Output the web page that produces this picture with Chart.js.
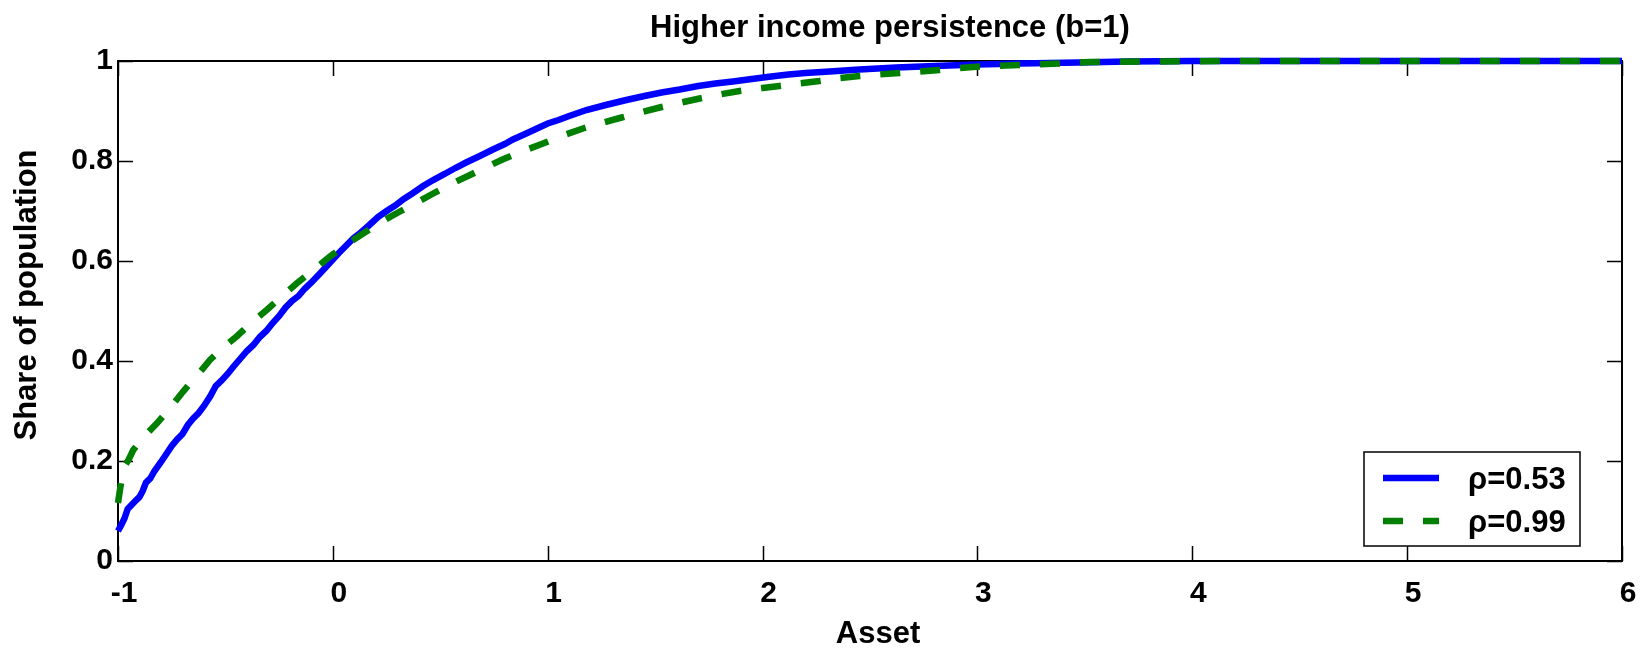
<!DOCTYPE html>
<html>
<head>
<meta charset="utf-8">
<script src="https://cdn.jsdelivr.net/npm/chart.js@4.4.1/dist/chart.umd.min.js"></script>
<style>
  html, body { margin: 0; padding: 0; background: #fff; }
  canvas { display: block; }
</style>
</head>
<body>
<canvas id="cdf" width="1648" height="651"></canvas>
<script>
// Cumulative share of population by asset holdings, two income-persistence cases.
const chartTitle = 'Higher income persistence (b=1)';
const xAxisTitle = 'Asset';
const yAxisTitle = 'Share of population';
const seriesLabels = ['\u03C1=0.53', '\u03C1=0.99'];

const xTickValues = [-1, 0, 1, 2, 3, 4, 5, 6];
const yTickValues = [0, 0.2, 0.4, 0.6, 0.8, 1];

// rho = 0.53
const asset53 = [-1, -0.985, -0.97, -0.955, -0.935, -0.915, -0.9, -0.885, -0.87, -0.85, -0.83, -0.8,
  -0.775, -0.75, -0.725, -0.7, -0.675, -0.65, -0.625, -0.6, -0.57, -0.545, -0.52, -0.49, -0.46, -0.43,
  -0.4, -0.37, -0.34, -0.31, -0.28, -0.25, -0.22, -0.19, -0.16, -0.13, -0.1, -0.06, -0.03, 0, 0.03,
  0.06, 0.095, 0.13, 0.17, 0.21, 0.25, 0.29, 0.33, 0.37, 0.42, 0.467, 0.52, 0.57, 0.62, 0.684, 0.745,
  0.8, 0.838, 0.9, 0.95, 1.0, 1.05, 1.1, 1.18, 1.27, 1.366, 1.45, 1.53, 1.614, 1.7, 1.78, 1.862, 1.95,
  2.04, 2.12, 2.2, 2.312, 2.45, 2.622, 2.8, 3.0, 3.2, 3.47, 3.7, 4.0, 6.0];
const share53 = [0.06, 0.072, 0.085, 0.104, 0.113, 0.122, 0.128, 0.14, 0.157, 0.165, 0.18, 0.198,
  0.214, 0.23, 0.243, 0.254, 0.272, 0.285, 0.296, 0.31, 0.33, 0.35, 0.36, 0.374, 0.39, 0.405,
  0.42, 0.432, 0.448, 0.46, 0.476, 0.49, 0.507, 0.52, 0.53, 0.545, 0.557, 0.575, 0.589, 0.603, 0.617,
  0.63, 0.645, 0.657, 0.672, 0.688, 0.7, 0.711, 0.724, 0.735, 0.75, 0.762, 0.774, 0.786, 0.797, 0.81, 0.823,
  0.834, 0.843, 0.855, 0.865, 0.875, 0.882, 0.89, 0.902, 0.912, 0.922, 0.93, 0.937, 0.943, 0.95, 0.955, 0.959, 0.964,
  0.969, 0.973, 0.976, 0.979, 0.983, 0.987, 0.99, 0.993, 0.995, 0.997, 0.999, 1.0, 1.0];

// rho = 0.99
const asset99 = [-1, -0.99, -0.98, -0.965, -0.95, -0.929, -0.9, -0.86, -0.82, -0.76, -0.697, -0.63,
  -0.572, -0.51, -0.448, -0.38, -0.308, -0.24, -0.169, -0.09, -0.014, 0.06, 0.141, 0.22, 0.312, 0.39,
  0.467, 0.56, 0.653, 0.72, 0.79, 0.88, 0.978, 1.07, 1.164, 1.25, 1.335, 1.43, 1.521, 1.61, 1.707, 1.8,
  1.893, 2.0, 2.079, 2.17, 2.265, 2.36, 2.451, 2.54, 2.637, 2.73, 2.823, 2.92, 3.009, 3.195, 3.38, 3.52,
  3.8, 4.2, 6.0];
const share99 = [0.116, 0.145, 0.17, 0.193, 0.203, 0.222, 0.238, 0.257, 0.275, 0.305, 0.339, 0.372,
  0.402, 0.427, 0.449, 0.476, 0.502, 0.528, 0.555, 0.582, 0.609, 0.632, 0.655, 0.677, 0.699, 0.717,
  0.735, 0.756, 0.775, 0.789, 0.803, 0.819, 0.835, 0.851, 0.865, 0.876, 0.886, 0.897, 0.907, 0.916, 0.925, 0.933,
  0.94, 0.946, 0.95, 0.955, 0.96, 0.966, 0.97, 0.973, 0.976, 0.979, 0.982, 0.986, 0.989, 0.992, 0.995, 0.998,
  0.999, 1.0, 1.0];

const toPoints = (xs, ys) => xs.map((x, i) => ({ x: x, y: ys[i] }));

const FONT_FAMILY = "'Liberation Sans', Arial, Helvetica, sans-serif";
Chart.defaults.font.family = FONT_FAMILY;
Chart.defaults.font.weight = 'bold';
Chart.defaults.font.size = 30;
Chart.defaults.color = '#000';

// Boxed axes with inward ticks on all four sides, title, axis labels and legend box.
const framePlugin = {
  id: 'frame',
  beforeDatasetsDraw(chart) {
    const { ctx, chartArea: a, scales } = chart;
    const xs = scales.x, ys = scales.y;
    const tickLen = 15;
    ctx.save();
    ctx.strokeStyle = '#000';
    ctx.lineWidth = 1.5;
    ctx.beginPath();
    xTickValues.forEach(v => {
      const px = Math.round(xs.getPixelForValue(v)) + 0.5;
      ctx.moveTo(px, a.bottom); ctx.lineTo(px, a.bottom - tickLen);
      ctx.moveTo(px, a.top); ctx.lineTo(px, a.top + tickLen);
    });
    yTickValues.forEach(v => {
      const py = Math.round(ys.getPixelForValue(v)) + 0.5;
      ctx.moveTo(a.left, py); ctx.lineTo(a.left + tickLen, py);
      ctx.moveTo(a.right, py); ctx.lineTo(a.right - tickLen, py);
    });
    ctx.stroke();
    ctx.lineWidth = 2;
    ctx.strokeRect(a.left, a.top, a.right - a.left, a.bottom - a.top);
    ctx.restore();
  },
  afterDraw(chart) {
    const { ctx } = chart;
    ctx.save();
    ctx.fillStyle = '#000';

    // title
    ctx.font = 'bold 31px ' + FONT_FAMILY;
    ctx.textAlign = 'center';
    ctx.textBaseline = 'alphabetic';
    ctx.fillText(chartTitle, 890, 37);

    // x axis label
    ctx.fillText(xAxisTitle, 878, 643);

    // y axis label
    ctx.save();
    ctx.translate(36, 295);
    ctx.rotate(-Math.PI / 2);
    ctx.fillText(yAxisTitle, 0, 0);
    ctx.restore();

    // legend
    const bx = 1364, by = 452, bw = 216, bh = 94;
    ctx.fillStyle = '#fff';
    ctx.fillRect(bx, by, bw, bh);
    ctx.strokeStyle = '#000';
    ctx.lineWidth = 1.5;
    ctx.strokeRect(bx, by, bw, bh);
    ctx.font = 'bold 31px ' + FONT_FAMILY;
    ctx.textAlign = 'left';
    ctx.textBaseline = 'middle';
    chart.data.datasets.forEach((ds, i) => {
      const ly = 478 + i * 43;
      ctx.save();
      ctx.strokeStyle = ds.borderColor;
      ctx.lineWidth = ds.borderWidth;
      ctx.setLineDash(ds.borderDash || []);
      ctx.beginPath();
      ctx.moveTo(1383, ly);
      ctx.lineTo(1439, ly);
      ctx.stroke();
      ctx.restore();
      ctx.fillStyle = '#000';
      ctx.fillText(ds.label, 1468, ly + 2);
    });
    ctx.restore();
  }
};

new Chart(document.getElementById('cdf'), {
  type: 'line',
  data: {
    datasets: [
      {
        label: seriesLabels[0],
        data: toPoints(asset53, share53),
        borderColor: '#0000FF',
        borderWidth: 6.5,
        pointRadius: 0,
        tension: 0,
        clip: 10,
        order: 1
      },
      {
        label: seriesLabels[1],
        data: toPoints(asset99, share99),
        borderColor: '#007F00',
        borderWidth: 6.5,
        borderDash: [20, 20],
        pointRadius: 0,
        tension: 0,
        clip: 10,
        order: 0
      }
    ]
  },
  options: {
    responsive: false,
    animation: false,
    devicePixelRatio: 1,
    layout: { padding: { left: 0, right: 26, top: 61, bottom: 0 } },
    plugins: {
      legend: { display: false },
      title: { display: false },
      tooltip: { enabled: false }
    },
    scales: {
      x: {
        type: 'linear',
        min: -1,
        max: 6,
        afterBuildTicks: s => { s.ticks = xTickValues.map(v => ({ value: v })); },
        afterFit: s => { s.height = 90; },
        grid: { display: false, drawTicks: false },
        border: { display: false },
        ticks: {
          padding: 15,
          labelOffset: 6,
          maxRotation: 0,
          autoSkip: false,
          font: { size: 30, weight: 'bold' },
          callback: v => String(v)
        }
      },
      y: {
        type: 'linear',
        min: 0,
        max: 1,
        afterBuildTicks: s => { s.ticks = yTickValues.map(v => ({ value: v })); },
        afterFit: s => { s.width = 118; },
        grid: { display: false, drawTicks: false },
        border: { display: false },
        ticks: {
          padding: 5,
          autoSkip: false,
          font: { size: 30, weight: 'bold' },
          callback: v => String(Math.round(v * 10) / 10)
        }
      }
    }
  },
  plugins: [framePlugin]
});
</script>
</body>
</html>
